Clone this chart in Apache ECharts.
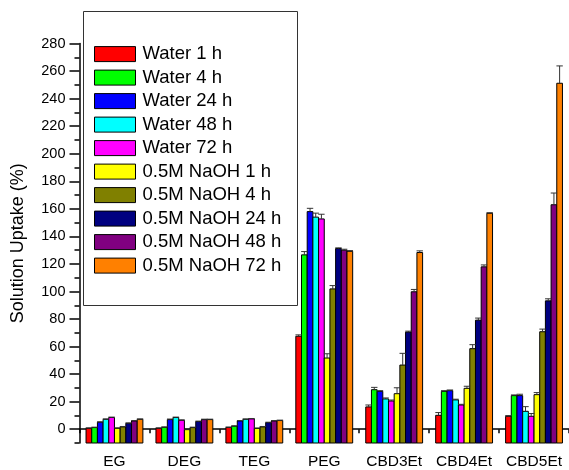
<!DOCTYPE html>
<html>
<head>
<meta charset="utf-8">
<script src="https://cdn.jsdelivr.net/npm/echarts@6/dist/echarts.min.js"></script>
<style>
html,body{margin:0;padding:0;background:#fff;}
#chart{width:569px;height:470px;}
</style>
</head>
<body>
<div id="chart"></div>
<script>
// ---- data ----
const categories = ['EG', 'DEG', 'TEG', 'PEG', 'CBD3Et', 'CBD4Et', 'CBD5Et'];
const seriesNames = ['Water 1 h', 'Water 4 h', 'Water 24 h', 'Water 48 h', 'Water 72 h',
  '0.5M NaOH 1 h', '0.5M NaOH 4 h', '0.5M NaOH 24 h', '0.5M NaOH 48 h', '0.5M NaOH 72 h'];
const water1h  = [0.7, 0.7, 1.3, 67.5, 16.2, 10.1, 9.4];
const water4h  = [1.2, 1.4, 2.2, 126.6, 28.7, 27.5, 24.4];
const water24h = [5.1, 7.0, 6.0, 158.0, 27.5, 28.0, 24.4];
const water48h = [7.2, 8.5, 7.2, 154.0, 22.0, 21.3, 13.0];
const water72h = [8.5, 6.5, 7.5, 152.7, 20.5, 17.6, 9.4];
const naoh1h   = [0.7, -0.3, 0.6, 51.7, 25.8, 29.7, 25.1];
const naoh4h   = [1.7, 1.2, 1.7, 101.9, 46.6, 58.5, 70.8];
const naoh24h  = [4.3, 5.6, 4.8, 131.2, 70.5, 79.2, 93.2];
const naoh48h  = [6.0, 7.0, 6.0, 130.0, 99.8, 117.9, 163.0];
const naoh72h  = [7.2, 7.0, 6.3, 129.2, 128.3, 156.8, 251.2];
// upper error bars
const water1hErr  = [0.3, 0.3, 0.3, 1.0, 1.4, 2.0, 0.5];
const water4hErr  = [0.3, 0.3, 0.3, 2.4, 1.7, 0.5, 0.5];
const water24hErr = [0.3, 0.4, 0.3, 2.4, 0.5, 0.5, 1.0];
const water48hErr = [0.3, 0.3, 0.3, 2.9, 0.7, 0.5, 3.4];
const water72hErr = [0.3, 0.3, 0.3, 3.4, 0.7, 0.5, 2.0];
const naoh1hErr   = [0.3, 0.3, 0.3, 3.1, 4.3, 1.5, 1.5];
const naoh4hErr   = [0.3, 0.3, 0.3, 2.4, 8.5, 2.9, 1.9];
const naoh24hErr  = [0.3, 0.3, 0.3, 0.5, 0.7, 1.5, 1.5];
const naoh48hErr  = [0.3, 0.3, 0.3, 0.7, 1.7, 1.4, 8.5];
const naoh72hErr  = [0.3, 0.3, 0.3, 0.5, 1.2, 0.4, 12.6];
const yTicks = [0, 20, 40, 60, 80, 100, 120, 140, 160, 180, 200, 220, 240, 260, 280];

const values = [water1h, water4h, water24h, water48h, water72h, naoh1h, naoh4h, naoh24h, naoh48h, naoh72h];
const errors = [water1hErr, water4hErr, water24hErr, water48hErr, water72hErr, naoh1hErr, naoh4hErr, naoh24hErr, naoh48hErr, naoh72hErr];
const colors = ['#FF0000', '#00FF00', '#0000FF', '#00FFFF', '#FF00FF', '#FFFF00', '#808000', '#000080', '#800080', '#FF8000'];

const FONT = 'Liberation Sans, Arial, sans-serif';
const Y_BASE = -10;
const BAR_FRAC = 0.0813;

const chart = echarts.init(document.getElementById('chart'), null, {renderer: 'canvas'});

const barSeries = values.map(function (vals, k) {
  return {
    name: seriesNames[k],
    type: 'custom',
    xAxisIndex: 0,
    yAxisIndex: 0,
    itemStyle: {color: colors[k], borderColor: '#000', borderWidth: 1},
    data: vals.map(function (v, i) { return [i, v]; }),
    renderItem: function (params, api) {
      const ci = api.value(0), v = api.value(1);
      const top = api.coord([ci, v]);
      const base = api.coord([ci, Y_BASE]);
      const bw = api.size([1, 0])[0] * BAR_FRAC;
      const x = top[0] + (k - 4.5) * bw - bw / 2;
      return {
        type: 'rect',
        shape: {x: x, y: top[1], width: bw, height: base[1] - top[1]},
        style: {fill: colors[k], stroke: '#000', lineWidth: 1}
      };
    },
    z: 2
  };
});

const errData = [];
values.forEach(function (vals, k) {
  vals.forEach(function (v, i) { errData.push([i, v, errors[k][i], k]); });
});

const errSeries = {
  name: 'errors',
  type: 'custom',
  xAxisIndex: 0,
  yAxisIndex: 0,
  data: errData,
  z: 3,
  renderItem: function (params, api) {
    const ci = api.value(0), v = api.value(1), e = api.value(2), k = api.value(3);
    const p0 = api.coord([ci, v]);
    const p1 = api.coord([ci, v + e]);
    const bw = api.size([1, 0])[0] * BAR_FRAC;
    const x = p0[0] + (k - 4.5) * bw;
    const cap = 3.2;
    return {
      type: 'group',
      children: [
        {type: 'line', shape: {x1: x, y1: p0[1], x2: x, y2: p1[1]}, style: {stroke: '#333', lineWidth: 1}},
        {type: 'line', shape: {x1: x - cap, y1: p1[1], x2: x + cap, y2: p1[1]}, style: {stroke: '#333', lineWidth: 1}}
      ]
    };
  }
};

const option = {
  animation: false,
  backgroundColor: '#fff',
  textStyle: {fontFamily: FONT},
  grid: {left: 79.5, right: -6, top: 43.6, bottom: 25.7, containLabel: false},
  legend: {
    orient: 'vertical',
    left: 94,
    top: 44.6,
    padding: 0,
    itemWidth: 41,
    itemHeight: 15,
    itemGap: 4.5,
    selectedMode: false,
    data: seriesNames.map(function (n, k) {
      return {name: n, icon: 'rect', itemStyle: {color: colors[k], borderColor: '#000', borderWidth: 1}};
    }),
    textStyle: {fontFamily: FONT, fontSize: 18.5, color: '#000', lineHeight: 15, padding: [0, 0, 0, 2]}
  },
  graphic: [{
    type: 'rect',
    shape: {x: 83.5, y: 11.5, width: 214, height: 294},
    style: {fill: 'transparent', stroke: '#333', lineWidth: 1},
    z: 1
  }],
  xAxis: [{
    type: 'category',
    position: 'bottom',
    data: categories,
    axisLine: {show: true, lineStyle: {color: '#000', width: 1.5}},
    axisTick: {show: true, alignWithLabel: true, length: 7, lineStyle: {color: '#000', width: 1.5}},
    axisLabel: {color: '#000', fontSize: 15.5, fontFamily: FONT, margin: 11, interval: 0},
    splitLine: {show: false}
  }, {
    type: 'category',
    position: 'bottom',
    data: categories,
    axisLine: {show: false},
    axisTick: {show: true, alignWithLabel: false, length: 4, lineStyle: {color: '#000', width: 1.5}},
    axisLabel: {show: false},
    splitLine: {show: false}
  }],
  yAxis: [{
    type: 'value',
    position: 'left',
    min: Y_BASE,
    max: 280,
    name: 'Solution Uptake (%)',
    nameLocation: 'middle',
    nameGap: 52,
    nameTextStyle: {fontSize: 18, color: '#000', fontFamily: FONT},
    axisLine: {show: true, lineStyle: {color: '#000', width: 1.5}},
    axisTick: {show: true, length: 10, customValues: yTicks, lineStyle: {color: '#000', width: 1.5}},
    axisLabel: {color: '#000', fontSize: 14.5, fontFamily: FONT, margin: 14, customValues: yTicks},
    splitLine: {show: false}
  }, {
    type: 'value',
    position: 'left',
    min: Y_BASE,
    max: 280,
    interval: 10,
    axisLine: {show: false},
    axisTick: {show: true, length: 5, lineStyle: {color: '#000', width: 1.5}},
    axisLabel: {show: false},
    splitLine: {show: false}
  }],
  series: barSeries.concat([errSeries])
};

chart.setOption(option);
</script>
</body>
</html>
